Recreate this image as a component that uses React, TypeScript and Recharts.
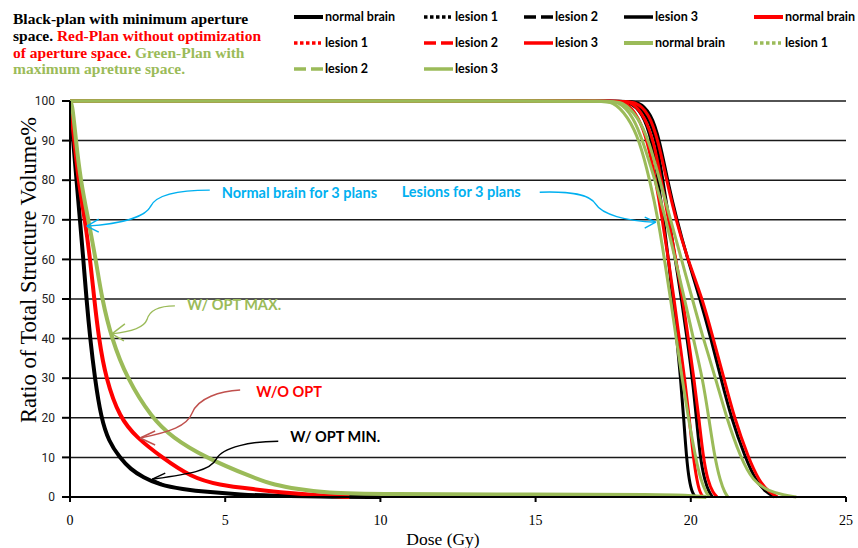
import { CartesianGrid, Label, Line, LineChart, ReferenceDot, XAxis, YAxis } from "recharts"

type Pt = [number, number]

const xTicks = [0, 5, 10, 15, 20, 25]
const yTicks = [0, 10, 20, 30, 40, 50, 60, 70, 80, 90, 100]

// dose (Gy), volume (%)
const blackNormal: Pt[] = [
  [0, 100], [0.1, 90], [0.21, 80], [0.32, 70], [0.43, 60], [0.53, 50], [0.65, 40], [0.8, 30],
  [1.0, 20], [1.25, 14], [1.6, 10], [1.95, 7], [2.35, 5], [2.9, 3], [3.6, 2], [4.5, 1.2],
  [5.5, 0.6], [6.5, 0.3], [8, 0.1], [10, 0],
]
const redNormal: Pt[] = [
  [0, 100], [0.14, 90], [0.27, 80], [0.48, 70], [0.65, 60], [0.78, 50], [0.93, 40], [1.15, 30],
  [1.6, 20], [2.15, 15], [2.96, 10], [3.9, 5], [4.8, 3], [5.9, 2], [7, 1], [8, 0.4], [9, 0],
]
const greenNormal: Pt[] = [
  [0, 100], [0.08, 99], [0.19, 90], [0.34, 80], [0.59, 70], [0.83, 60], [1.03, 50], [1.34, 40],
  [1.83, 30], [2.63, 20], [3.3, 15], [4.35, 10], [5.86, 5], [6.6, 3], [7.35, 2], [8.2, 1],
  [10, 0.7], [15, 0.6], [19, 0.5], [20, 0.3], [20.5, 0],
]

const blackLesion1: Pt[] = [
  [0, 100], [17.5, 100], [18.0, 100], [18.45, 97], [18.75, 90], [18.95, 80], [19.12, 70], [19.28, 60], [19.42, 50],
  [19.55, 40], [19.67, 30], [19.77, 20], [19.86, 10], [19.95, 4], [20.05, 1], [20.15, 0],
]
const blackLesion2: Pt[] = [
  [0, 100], [17.7, 100], [18.2, 100], [18.62, 96], [18.9, 90], [19.1, 80], [19.3, 70], [19.5, 60], [19.7, 50],
  [19.88, 40], [20.05, 30], [20.18, 20], [20.3, 10], [20.45, 4], [20.6, 1], [20.7, 0],
]
const blackLesion3: Pt[] = [
  [0, 100], [17.8, 100], [18.3, 100], [18.72, 97], [19.0, 90], [19.25, 80], [19.55, 70], [19.9, 60], [20.3, 50],
  [20.65, 40], [20.97, 30], [21.3, 20], [21.75, 10], [22.1, 4], [22.45, 1], [22.7, 0],
]
const redLesion1: Pt[] = [
  [0, 100], [17.4, 100], [17.9, 100], [18.32, 96], [18.6, 90], [18.87, 80], [19.08, 70], [19.28, 60], [19.46, 50],
  [19.63, 40], [19.8, 30], [19.95, 20], [20.08, 10], [20.2, 4], [20.3, 1], [20.4, 0],
]
const redLesion2: Pt[] = [
  [0, 100], [17.6, 100], [18.1, 100], [18.52, 96], [18.8, 90], [19.05, 80], [19.28, 70], [19.52, 60], [19.74, 50],
  [19.92, 40], [20.1, 30], [20.26, 20], [20.4, 10], [20.55, 4], [20.72, 1], [20.85, 0],
]
const redLesion3: Pt[] = [
  [0, 100], [17.7, 100], [18.2, 100], [18.65, 97], [18.95, 90], [19.22, 80], [19.52, 70], [19.9, 60], [20.38, 50],
  [20.72, 40], [21.07, 30], [21.4, 20], [21.85, 10], [22.2, 4], [22.55, 1], [22.8, 0],
]
const greenLesion1: Pt[] = [
  [0, 100], [17.0, 100], [17.5, 100], [17.98, 96], [18.35, 90], [18.68, 80], [18.95, 70], [19.15, 60], [19.35, 50],
  [19.53, 40], [19.72, 30], [19.92, 20], [20.15, 10], [20.33, 4], [20.5, 1], [20.6, 0],
]
const greenLesion2: Pt[] = [
  [0, 100], [17.2, 100], [17.7, 100], [18.15, 96], [18.45, 90], [18.85, 80], [19.2, 70], [19.5, 60], [19.8, 50],
  [20.08, 40], [20.38, 30], [20.58, 20], [20.77, 10], [20.95, 4], [21.1, 1], [21.2, 0],
]
const greenLesion3: Pt[] = [
  [0, 100], [17.3, 100], [17.8, 100], [18.3, 96], [18.65, 90], [19.0, 80], [19.35, 70], [19.7, 60], [20.05, 50],
  [20.4, 40], [20.8, 30], [21.15, 20], [21.6, 10], [22.0, 4], [22.5, 1.5], [23.0, 0.5], [23.4, 0],
]

const BLACK = "#000000"
const RED = "#ff0000"
const GREEN = "#9bbb59"
const BLUE = "#00b0f0"

const series = [
  { name: "normal brain", color: BLACK, style: "thick", pts: blackNormal },
  { name: "lesion 1", color: BLACK, style: "dot", pts: blackLesion1 },
  { name: "lesion 2", color: BLACK, style: "dash", pts: blackLesion2 },
  { name: "lesion 3", color: BLACK, style: "solid", pts: blackLesion3 },
  { name: "normal brain", color: RED, style: "thick", pts: redNormal },
  { name: "lesion 1", color: RED, style: "dot", pts: redLesion1 },
  { name: "lesion 2", color: RED, style: "dash", pts: redLesion2 },
  { name: "lesion 3", color: RED, style: "solid", pts: redLesion3 },
  { name: "normal brain", color: GREEN, style: "thick", pts: greenNormal },
  { name: "lesion 1", color: GREEN, style: "dot", pts: greenLesion1 },
  { name: "lesion 2", color: GREEN, style: "dash", pts: greenLesion2 },
  { name: "lesion 3", color: GREEN, style: "solid", pts: greenLesion3 },
]

// callouts: arrow tip in data units, the rest in pixels relative to the tip
const notes = [
  { x: 0.54, y: 68.4, text: "Normal brain for 3 plans", color: BLUE, line: BLUE, tx: 135, ty: -34, anchor: "start",
    path: "M123,-36 C92,-36 70,-32 64,-20 C58,-8 30,-2 0,0", arms: [[12, -7], [12, 6]] },
  { x: 18.87, y: 69.4, text: "Lesions for 3 plans", color: BLUE, line: BLUE, tx: -135, ty: -31, anchor: "end",
    path: "M-116,-30 C-85,-31 -66,-28 -60,-18 C-54,-8 -30,-1 0,0", arms: [[-11, -5], [-11, 6]] },
  { x: 1.35, y: 41.2, text: "W/ OPT MAX.", color: GREEN, line: GREEN, tx: 75, ty: -29, anchor: "start",
    path: "M63,-28 C45,-28 37,-22 35,-14 C32,-6 20,-2 0,0", arms: [[13, -10], [12, 7]] },
  { x: 2.26, y: 14.9, text: "W/O OPT", color: RED, line: "#c0504d", tx: 116, ty: -46, anchor: "start",
    path: "M100,-48 C80,-47 58,-40 52,-25 C47,-12 30,-6 0,0", arms: [[15, -7], [15, 7]] },
  { x: 2.65, y: 4.5, text: "W/ OPT MIN.", color: BLACK, line: BLACK, tx: 138, ty: -43, anchor: "start",
    path: "M126,-38 C100,-38 70,-32 64,-20 C58,-8 35,-5 0,0", arms: [[13, -6], [11, 5]] },
]

const legendCols = [294, 424, 524, 624, 754]
const legendRows = [17, 43, 69]

const sans = "Lato, 'Open Sans', sans-serif"
const serif = "'Liberation Serif', 'Times New Roman', serif"

function Callout(props: any) {
  const { cx, cy, note } = props
  if (cx == null || cy == null) return null
  return (
    <g transform={`translate(${cx},${cy})`}>
      <path d={note.path} fill="none" stroke={note.line} strokeWidth={1.4} />
      {note.arms.map((a: number[], i: number) => (
        <line key={i} x1={0} y1={0} x2={a[0]} y2={a[1]} stroke={note.line} strokeWidth={1.4} />
      ))}
      <text x={note.tx} y={note.ty} textAnchor={note.anchor} dominantBaseline="central"
        fontFamily={sans} fontWeight={700} fontSize={14.5} fill={note.color}>
        {note.text}
      </text>
    </g>
  )
}

function LegendIcon({ color, style }: { color: string; style: string }) {
  const w = style === "thick" ? 4 : 3.5
  const dash = style === "dot" ? "3.5 2.5" : style === "dash" ? "12 5" : undefined
  return (
    <svg width={29} height={10} style={{ position: "absolute", left: 0, top: -5 }}>
      <line x1={0} y1={5} x2={style === "dot" ? 27 : 29} y2={5} stroke={color} strokeWidth={w} strokeDasharray={dash} />
    </svg>
  )
}

function ChartLegend() {
  return (
    <>
      {series.map((s, i) => (
        <div key={i} style={{
          position: "absolute", left: legendCols[i % 5], top: legendRows[Math.floor(i / 5)],
          height: 0, whiteSpace: "nowrap",
        }}>
          <LegendIcon color={s.color} style={s.style} />
          <span style={{
            position: "absolute", left: 31, top: -9, lineHeight: "18px",
            fontFamily: sans, fontWeight: 700, fontSize: 12.5, color: "#000",
          }}>{s.name}</span>
        </div>
      ))}
    </>
  )
}

export default function App() {
  return (
    <div style={{ position: "absolute", left: 0, top: 0, width: 858, height: 548, background: "#fff" }}>
      <LineChart width={858} height={548} margin={{ top: 101, right: 12, left: 0, bottom: 0 }}>
        <CartesianGrid vertical={false} stroke="#1a1a1a" strokeWidth={1.5} />
        <XAxis
          dataKey="d"
          type="number"
          domain={[0, 25]}
          ticks={xTicks}
          height={51}
          stroke="#000"
          strokeWidth={2}
          tickSize={5}
          tickMargin={13}
          tick={{ fontFamily: serif, fontSize: 14, fill: "#000" }}
          allowDataOverflow
        >
          <Label content={() => (
            <text x={443} y={545} textAnchor="middle" fontFamily={serif} fontSize={17.5} fill="#000">Dose (Gy)</text>
          )} />
        </XAxis>
        <YAxis
          type="number"
          domain={[0, 100]}
          ticks={yTicks}
          width={70}
          stroke="#000"
          strokeWidth={2}
          tickSize={8}
          tickMargin={7}
          tick={{ fontFamily: "'Liberation Sans Narrow', Roboto, sans-serif", fontSize: 12, fill: "#222" }}
        >
          <Label content={() => (
            <text x={28} y={270} transform="rotate(-90 28 270)" textAnchor="middle" dominantBaseline="central"
              fontFamily={serif} fontSize={22.5} fill="#000">Ratio of Total Structure Volume%</text>
          )} />
        </YAxis>
        {series.map((s, i) => (
          <Line
            key={i}
            data={s.pts.map(([d, v]) => ({ d, v }))}
            dataKey="v"
            name={s.name}
            type="basis"
            stroke={s.color}
            strokeWidth={s.style === "thick" ? 4 : 3}
            dot={false}
            activeDot={false}
            isAnimationActive={false}
          />
        ))}
        {notes.map((n, i) => (
          <ReferenceDot key={i} x={n.x} y={n.y} r={0} ifOverflow="visible"
            shape={(p: any) => <Callout {...p} note={n} />} />
        ))}
      </LineChart>
      <div style={{
        position: "absolute", left: 13, top: 11, width: 280,
        fontFamily: serif, fontWeight: 700, fontSize: 15.5, lineHeight: "16.8px", color: "#000",
      }}>
        Black-plan with minimum aperture<br />
        space. <span style={{ color: RED }}>Red-Plan without optimization</span><br />
        <span style={{ color: RED }}>of aperture space.</span> <span style={{ color: GREEN }}>Green-Plan with</span><br />
        <span style={{ color: GREEN }}>maximum apreture space.</span>
      </div>
      <ChartLegend />
    </div>
  )
}
